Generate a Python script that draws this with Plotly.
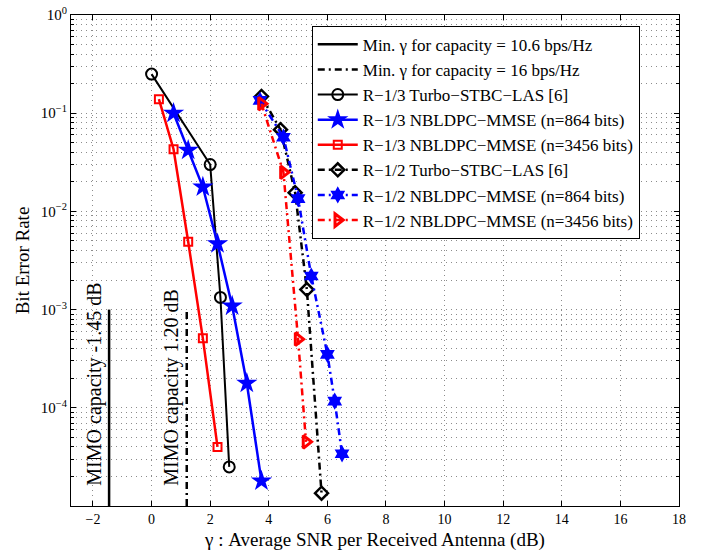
import plotly.graph_objects as go

# ---- data ----
cap_lo_x = [-1.45, -1.45]
cap_hi_x = [1.20, 1.20]
cap_y = [1e-5, 1e-3]

turbo13_x = [0.0, 2.0, 2.35, 2.65]
turbo13_y = [0.25, 0.030, 1.33e-3, 2.5e-5]

nb13_864_x = [0.75, 1.25, 1.75, 2.25, 2.75, 3.25, 3.75]
nb13_864_y = [0.10, 0.042, 0.0177, 0.0047, 1.09e-3, 1.78e-4, 1.8e-5]

nb13_3456_x = [0.25, 0.75, 1.25, 1.75, 2.25]
nb13_3456_y = [0.139, 0.043, 0.0049, 5.1e-4, 4.0e-5]

turbo12_x = [3.75, 4.4, 4.9, 5.3, 5.8]
turbo12_y = [0.148, 0.068, 0.0155, 1.6e-3, 1.35e-5]

nb12_864_x = [3.7, 4.5, 5.0, 5.45, 6.0, 6.25, 6.5]
nb12_864_y = [0.135, 0.057, 0.0135, 2.2e-3, 3.5e-4, 1.17e-4, 3.4e-5]

nb12_3456_x = [3.75, 4.5, 5.0, 5.27]
nb12_3456_y = [0.125, 0.025, 5.0e-4, 4.5e-5]

ytick_vals = [1e-4, 1e-3, 1e-2, 1e-1, 1]
ytick_text = ["10<sup>−4</sup>", "10<sup>−3</sup>", "10<sup>−2</sup>", "10<sup>−1</sup>", "10<sup>0</sup>"]
xtick_vals = [-2, 0, 2, 4, 6, 8, 10, 12, 14, 16, 18]
yminor_vals = [m * 10.0 ** e for e in range(-5, 0) for m in range(2, 10)]

FONT = "Liberation Serif"
DASHDOT = "7px,4px,2px,4px"
GRIDCOL = "#8c8c8c"
GRIDDASH = "1px,4px"

fig = go.Figure()

fig.add_trace(go.Scatter(x=cap_lo_x, y=cap_y, mode="lines",
                         line=dict(color="black", width=2.5),
                         name="Min. γ for capacity = 10.6 bps/Hz"))
fig.add_trace(go.Scatter(x=cap_hi_x, y=cap_y, mode="lines",
                         line=dict(color="black", width=2.5, dash=DASHDOT),
                         name="Min. γ for capacity = 16 bps/Hz"))
fig.add_trace(go.Scatter(x=turbo13_x, y=turbo13_y, mode="lines+markers",
                         line=dict(color="black", width=2),
                         marker=dict(symbol="circle-open", size=11, color="black",
                                     line=dict(width=2, color="black")),
                         name="R−1/3 Turbo−STBC−LAS [6]"))
fig.add_trace(go.Scatter(x=nb13_864_x, y=nb13_864_y, mode="lines+markers",
                         line=dict(color="#0000ff", width=2.5),
                         marker=dict(symbol="star", size=16, color="#0000ff",
                                     line=dict(width=0)),
                         name="R−1/3 NBLDPC−MMSE (n=864 bits)"))
fig.add_trace(go.Scatter(x=nb13_3456_x, y=nb13_3456_y, mode="lines+markers",
                         line=dict(color="#ff0000", width=2.5),
                         marker=dict(symbol="square-open", size=8, color="#ff0000",
                                     line=dict(width=2, color="#ff0000")),
                         name="R−1/3 NBLDPC−MMSE (n=3456 bits)"))
fig.add_trace(go.Scatter(x=turbo12_x, y=turbo12_y, mode="lines+markers",
                         line=dict(color="black", width=2.5, dash=DASHDOT),
                         marker=dict(symbol="diamond-open", size=10, color="black",
                                     line=dict(width=2.5, color="black")),
                         name="R−1/2 Turbo−STBC−LAS [6]"))
fig.add_trace(go.Scatter(x=nb12_864_x, y=nb12_864_y, mode="lines+markers",
                         line=dict(color="#0000ff", width=2.5, dash=DASHDOT),
                         marker=dict(symbol="hexagram", size=13, color="#0000ff",
                                     line=dict(width=0)),
                         name="R−1/2 NBLDPC−MMSE (n=864 bits)"))
fig.add_trace(go.Scatter(x=nb12_3456_x, y=nb12_3456_y, mode="lines+markers",
                         line=dict(color="#ff0000", width=2.5, dash=DASHDOT),
                         marker=dict(symbol="triangle-right-open", size=11, color="#ff0000",
                                     line=dict(width=3, color="#ff0000")),
                         name="R−1/2 NBLDPC−MMSE (n=3456 bits)"))

fig.add_annotation(x=-1.95, y=-3.76, xref="x", yref="y", text="MIMO capacity -1.45 dB",
                   textangle=-90, showarrow=False, font=dict(family=FONT, size=20, color="black"))
fig.add_annotation(x=0.68, y=-3.79, xref="x", yref="y", text="MIMO capacity 1.20 dB",
                   textangle=-90, showarrow=False, font=dict(family=FONT, size=20, color="black"))

grid = dict(showgrid=True, gridcolor=GRIDCOL, griddash=GRIDDASH, gridwidth=1)

fig.update_xaxes(range=[-2.75, 18], tickvals=xtick_vals, ticks="inside", ticklen=5,
                 tickcolor="black", mirror="ticks", showline=True, linecolor="black",
                 linewidth=1, zeroline=False, automargin=False,
                 title=dict(text="γ : Average SNR per Received Antenna (dB)", standoff=10,
                            font=dict(family=FONT, size=19)),
                 tickfont=dict(family=FONT, size=14), **grid)
fig.update_yaxes(type="log", range=[-5, 0], tickvals=ytick_vals, ticktext=ytick_text,
                 ticks="inside", ticklen=5, tickcolor="black", mirror="ticks",
                 showline=True, linecolor="black", linewidth=1, zeroline=False,
                 automargin=False,
                 title=dict(text="Bit Error Rate", standoff=6, font=dict(family=FONT, size=19)),
                 tickfont=dict(family=FONT, size=15),
                 minor=dict(tickmode="array", tickvals=yminor_vals,
                            ticks="inside", ticklen=3, tickcolor="black",
                            showgrid=True, gridcolor=GRIDCOL, griddash=GRIDDASH),
                 **grid)

fig.update_layout(
    width=709, height=551,
    margin=dict(l=71, r=30, t=15, b=45),
    paper_bgcolor="white", plot_bgcolor="white",
    font=dict(family=FONT, color="black"),
    showlegend=True,
    legend=dict(x=0.396, y=0.978, xanchor="left", yanchor="top",
                bgcolor="white", bordercolor="black", borderwidth=1,
                font=dict(family=FONT, size=17), tracegroupgap=0, itemwidth=40),
)

fig.write_html("out.html", config={"displayModeBar": False},
               post_script="document.body.style.margin='0';")
